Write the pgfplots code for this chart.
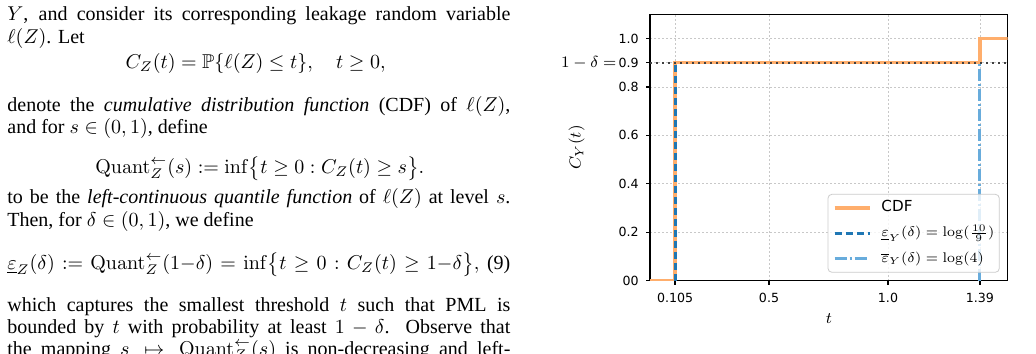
\documentclass[border=0pt]{standalone}
\usepackage{amsmath,amssymb}
\usepackage[no-math]{fontspec}
\setmainfont{Liberation Serif}
\newfontfamily\dejavu{DejaVu Sans}
\usepackage{pgfplots}
\pgfplotsset{compat=1.18}
\definecolor{cdforange}{RGB}{255,174,108}
\definecolor{dblue}{RGB}{31,119,180}
\definecolor{lblue}{RGB}{104,172,220}
\definecolor{gridgray}{RGB}{200,200,200}
\newcommand{\Quant}{\mathrm{Quant}^{\leftarrow}_{Z}}
\newcommand{\lm}{\fontsize{6.7}{8}\selectfont}
\begin{document}
\begin{tikzpicture}
\useasboundingbox (0,-176.5pt) rectangle (518pt,0pt);
\clip (0,-176.5pt) rectangle (518pt,0pt);
\fill[white] (0,-176.5pt) rectangle (518pt,0pt);
\tikzset{txt/.style={font=\fontsize{10}{11}\selectfont, inner sep=0pt, anchor=base west}}
% left column text
\node[txt] at (3.5pt,-10.35pt) {\makebox[251.5pt][s]{$Y$, and consider its corresponding leakage random variable}};
\node[txt] at (3.5pt,-21.65pt) {$\ell(Z)$. Let};
\node[txt, anchor=base] at (127.8pt,-34.2pt) {$C_Z(t)=\mathbb{P}\{\ell(Z)\le t\},\quad t\ge 0,$};
\node[txt] at (3.5pt,-55.8pt) {\makebox[251.5pt][s]{denote the \emph{cumulative distribution function} (CDF) of $\ell(Z)$,}};
\node[txt] at (3.5pt,-66.7pt) {and for $s\in(0,1)$, define};
\node[txt] at (47.5pt,-86.7pt) {$\Quant(s)\mathrel{:=}\inf\bigl\{t\ge 0 : C_Z(t)\ge s\bigr\}.$};
\node[txt] at (3.5pt,-101.7pt) {\makebox[251.5pt][s]{to be the \emph{left-continuous quantile function} of $\ell(Z)$ at level $s$.}};
\node[txt] at (3.5pt,-113pt) {Then, for $\delta\in(0,1)$, we define};
\node[txt] at (3.5pt,-134.7pt) {\hbox to 251.5pt{\hbox to 236pt{$\underline{\varepsilon}_Z(\delta)\mathrel{:=}\Quant(1{-}\delta)=\inf\bigl\{t\ge 0 : C_Z(t)\ge 1{-}\delta\bigr\},$}\hfill(9)}};
\node[txt] at (3.5pt,-155.8pt) {\makebox[251.5pt][s]{which captures the smallest threshold $t$ such that PML is}};
\node[txt] at (3.5pt,-166.7pt) {\makebox[251.5pt][s]{bounded by $t$ with probability at least $1-\delta$. Observe that}};
\node[txt] at (3.5pt,-177.5pt) {\makebox[251.5pt][s]{the mapping $s\mapsto\Quant(s)$ is non-decreasing and left-}};
% chart
\begin{axis}[
  at={(325pt,-140.35pt)}, anchor=south west,
  scale only axis, width=178.85pt, height=133.2pt,
  xmin=0, xmax=1.503, ymin=0, ymax=1.1,
  xtick={0.10536,0.5,1.0,1.38629},
  xticklabels={0.105,0.5,1.0,1.39},
  ytick={0,0.2,0.4,0.6,0.8,0.9,1.0},
  yticklabels={00,0.2,0.4,0.6,0.8,{{\fontsize{8}{9}\selectfont$1-\delta=$}\,0.9},1.0},
  xtick pos=lower, ytick pos=left,
  tick align=outside, major tick length=2pt,
  tick style={black, line width=0.6pt},
  axis line style={line width=0.6pt},
  tick label style={font=\dejavu\fontsize{6.3}{7.5}\selectfont},
  yticklabel style={inner sep=0pt, xshift=-3.5pt},
  xticklabel style={inner sep=0pt, yshift=-4pt},
  grid=major,
  major grid style={gridgray, line width=0.4pt, dash pattern=on 1pt off 1pt},
  xlabel={$t$}, ylabel={$C_Y(t)$},
  every axis x label/.style={at={(axis description cs:0.5,-0.1588)}, anchor=base, font=\fontsize{8.3}{9}\selectfont},
  every axis y label/.style={at={(axis description cs:-0.2052,0.5)}, rotate=90, anchor=center, font=\fontsize{8.3}{9}\selectfont},
  legend cell align=left,
  legend image code/.code={\draw[#1] (0pt,0pt) -- (17.5pt,0pt); \path (22.5pt,0pt);},
  legend style={at={(axis description cs:1,0)}, anchor=south east, xshift=-4pt, yshift=4pt,
    draw=black!20, rounded corners=2pt, fill=white, fill opacity=0.8, text opacity=1,
    font=\dejavu\fontsize{7.6}{8}\selectfont,
    inner xsep=2.5pt, inner ysep=3pt, row sep=5.25pt,
    nodes={inner sep=0pt, text height=5.5pt, text depth=2pt}},
]
\addplot[cdforange, line width=1.75pt, line join=miter] coordinates {(0,0) (0.10536,0) (0.10536,0.9) (1.38629,0.9) (1.38629,1.0) (1.503,1.0)};
\addlegendentry{CDF}
\addplot[dblue, line width=1.5pt, dash pattern=on 3.5pt off 2pt] coordinates {(0.10536,0) (0.10536,0.9)};
\addlegendentry{{\lm$\underline{\varepsilon}_Y(\delta)=\log(\frac{10}{9})$}}
\addplot[lblue, line width=1.5pt, dash pattern=on 6pt off 1.5pt on 1pt off 1.5pt] coordinates {(1.38629,0) (1.38629,0.9)};
\addlegendentry{{\lm$\overline{\varepsilon}_Y(\delta)=\log(4)$}}
\addplot[black!75, line width=1.2pt, dash pattern=on 1.2pt off 1.8pt, forget plot] coordinates {(0,0.9) (1.503,0.9)};
\end{axis}
\end{tikzpicture}
\end{document}
